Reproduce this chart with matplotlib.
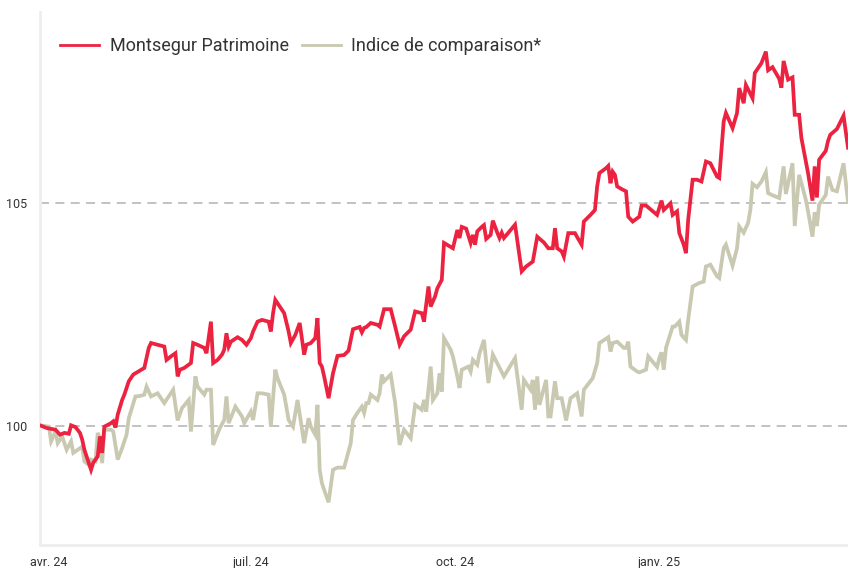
import matplotlib
matplotlib.use("Agg")
import matplotlib.pyplot as plt
import matplotlib.dates as mdates
import numpy as np
import datetime as dt

start_date = "2024-03-28"

# Montsegur Patrimoine: (day offset from start, index value)
montsegur_days = [0, 3, 7, 9, 11, 13, 14, 16, 18, 19, 20, 21, 23, 24, 26, 27, 28, 29, 32, 33,
                  34, 35, 37, 38, 40, 42, 45, 47, 49, 50, 53, 56, 57, 59, 61, 62, 63, 65, 68, 69,
                  71, 74, 75, 77, 78, 80, 82, 83, 84, 85, 86, 89, 91, 93, 95, 96, 98, 100, 103, 104,
                  105, 106, 108, 110, 112, 113, 115, 117, 119, 120, 122, 124, 125, 126, 127, 128, 130, 132, 134, 137,
                  139, 141, 144, 145, 146, 147, 149, 152, 153, 155, 158, 160, 162, 164, 167, 169, 172, 173, 175, 176,
                  178, 179, 181, 182, 186, 188, 189, 190, 192, 194, 195, 196, 197, 199, 200, 201, 203, 204, 206, 207,
                  208, 209, 212, 214, 217, 219, 222, 224, 227, 229, 231, 232, 233, 235, 236, 238, 241, 242, 244, 245,
                  248, 250, 251, 252, 255, 256, 257, 258, 259, 260, 262, 264, 265, 267, 270, 271, 273, 278, 280, 281,
                  284, 285, 287, 288, 290, 291, 292, 294, 296, 298, 300, 302, 305, 306, 308, 309, 312, 314, 315, 317,
                  318, 321, 322, 325, 327, 328, 330, 333, 334, 335, 337, 339, 340, 342, 343, 346, 348, 349, 350, 351,
                  354, 355, 356, 359, 362, 364]
montsegur_vals = [100.01, 99.95, 99.91, 99.80, 99.84, 99.82, 100.01, 99.97, 99.84, 99.69, 99.46, 99.31, 99.01, 99.17, 99.31, 99.76, 99.39, 99.98, 100.06, 100.10,
                  99.96, 100.25, 100.58, 100.70, 101.00, 101.15, 101.24, 101.30, 101.75, 101.86, 101.82, 101.78, 101.48, 101.56, 101.63, 101.11, 101.26, 101.30, 101.41, 101.86,
                  101.82, 101.75, 101.63, 102.34, 101.41, 101.48, 101.60, 101.71, 102.08, 101.78, 101.89, 101.99, 101.93, 101.82, 101.97, 102.12, 102.34, 102.38, 102.34, 102.12,
                  102.53, 102.83, 102.68, 102.53, 102.12, 101.86, 102.04, 102.31, 101.60, 101.82, 101.86, 101.97, 102.42, 101.41, 101.33, 101.11, 100.62, 101.18, 101.57, 101.59,
                  101.69, 102.17, 102.22, 102.10, 102.20, 102.22, 102.31, 102.27, 102.23, 102.62, 102.62, 102.23, 101.82, 102.01, 102.16, 102.57, 102.53, 102.34, 103.13, 102.68,
                  102.91, 103.09, 103.28, 104.11, 103.99, 104.40, 104.22, 104.47, 104.43, 104.11, 104.29, 104.07, 104.37, 104.47, 104.51, 104.20, 104.29, 104.61, 104.34, 104.22,
                  104.34, 104.22, 104.40, 104.52, 103.47, 103.58, 103.69, 104.25, 104.12, 103.99, 103.99, 104.44, 103.99, 103.92, 103.80, 104.33, 104.33, 104.24, 104.07, 104.59,
                  104.74, 104.85, 105.38, 105.68, 105.79, 105.84, 105.45, 105.71, 105.64, 105.38, 105.32, 105.27, 104.70, 104.59, 104.70, 104.95, 104.95, 104.74, 105.06, 104.85,
                  105.00, 104.74, 104.82, 104.33, 104.07, 103.88, 104.63, 105.53, 105.53, 105.49, 105.94, 105.90, 105.60, 105.57, 106.84, 107.03, 106.69, 107.03, 107.59, 107.25,
                  107.66, 107.36, 107.93, 108.15, 108.41, 107.99, 108.06, 107.80, 107.60, 108.20, 107.78, 107.83, 106.99, 106.99, 106.47, 105.68, 105.06, 105.83, 105.13, 105.98,
                  106.18, 106.40, 106.54, 106.67, 106.97, 106.25]

# Indice de comparaison*
indice_days = [0, 4, 5, 7, 8, 10, 12, 14, 15, 17, 19, 20, 22, 23, 25, 26, 27, 28, 29, 32,
               33, 35, 37, 39, 40, 43, 45, 47, 48, 50, 53, 56, 58, 60, 62, 64, 67, 68, 70, 71,
               74, 75, 77, 78, 81, 83, 84, 85, 88, 91, 92, 95, 96, 98, 100, 103, 104, 106, 107, 110,
               112, 114, 116, 119, 121, 122, 124, 125, 126, 127, 128, 130, 132, 134, 137, 138, 140, 141, 143, 145,
               146, 147, 148, 149, 152, 153, 154, 155, 158, 160, 162, 164, 167, 169, 172, 173, 174, 176, 177, 179,
               180, 181, 182, 185, 186, 188, 189, 190, 193, 194, 195, 197, 198, 200, 202, 204, 209, 214, 217, 218,
               221, 222, 223, 224, 225, 228, 229, 230, 232, 233, 235, 237, 239, 242, 244, 245, 249, 251, 252, 253,
               256, 257, 258, 260, 263, 264, 265, 266, 269, 270, 273, 274, 278, 279, 280, 281, 282, 285, 286, 288,
               289, 291, 292, 294, 297, 299, 300, 302, 305, 306, 308, 309, 312, 314, 315, 317, 319, 320, 321, 323,
               325, 327, 328, 330, 333, 335, 336, 339, 340, 342, 345, 346, 348, 349, 350, 351, 354, 355, 357, 359,
               362, 364]
indice_vals = [100.01, 99.98, 99.65, 99.87, 99.61, 99.76, 99.46, 99.65, 99.39, 99.46, 99.53, 99.20, 99.12, 99.24, 99.20, 99.84, 99.72, 99.16, 99.91, 99.91,
               99.87, 99.24, 99.50, 99.80, 100.17, 100.66, 100.67, 100.70, 100.88, 100.66, 100.73, 100.51, 100.66, 100.81, 100.12, 100.40, 100.58, 99.87, 101.11, 100.88,
               100.70, 100.81, 100.81, 99.57, 99.95, 100.13, 100.66, 100.06, 100.43, 100.21, 100.06, 100.32, 100.13, 100.73, 100.73, 100.70, 99.98, 101.26, 101.07, 100.70,
               100.13, 99.98, 100.58, 99.61, 100.17, 99.98, 99.80, 100.47, 99.01, 98.71, 98.56, 98.28, 99.01, 99.06, 99.06, 99.24, 99.61, 100.13, 100.29, 100.43,
               100.29, 100.51, 100.51, 100.70, 100.58, 100.73, 101.15, 101.00, 101.15, 100.51, 99.57, 99.91, 99.72, 100.47, 100.36, 100.58, 100.32, 101.33, 100.58, 100.73,
               101.18, 100.77, 101.97, 101.71, 101.56, 101.11, 100.85, 101.26, 101.33, 101.22, 101.48, 101.37, 101.63, 101.93, 100.96, 101.60, 101.11, 101.52, 100.36, 101.03,
               100.81, 101.03, 100.36, 101.11, 100.47, 101.03, 100.21, 100.21, 101.00, 100.62, 100.62, 100.12, 100.62, 100.73, 100.21, 100.81, 101.07, 101.41, 101.86, 101.89,
               101.99, 101.67, 101.86, 101.89, 101.75, 101.75, 101.89, 101.33, 101.22, 101.20, 101.26, 101.56, 101.32, 101.52, 101.65, 101.26, 101.75, 102.23, 102.23, 102.34,
               102.04, 101.93, 102.38, 103.13, 103.21, 103.24, 103.58, 103.62, 103.36, 103.32, 103.99, 104.07, 103.60, 103.99, 104.48, 104.34, 104.56, 104.85, 105.44, 105.36,
               105.49, 105.70, 105.23, 105.18, 105.12, 105.83, 105.21, 105.90, 104.49, 105.64, 105.08, 104.82, 104.25, 104.80, 104.49, 104.97, 105.19, 105.60, 105.30, 105.27,
               105.90, 105.03]

series_names = ["Montsegur Patrimoine", "Indice de comparaison*"]
y_ticks = [100, 105]
x_tick_dates = ["2024-04-01", "2024-07-01", "2024-10-01", "2025-01-01"]
x_tick_labels = ["avr. 24", "juil. 24", "oct. 24", "janv. 25"]

plt.rcParams['font.family'] = ['Roboto', 'DejaVu Sans']

t0 = dt.datetime.strptime(start_date, "%Y-%m-%d")
m_dates = [t0 + dt.timedelta(days=d) for d in montsegur_days]
i_dates = [t0 + dt.timedelta(days=d) for d in indice_days]

fig = plt.figure(figsize=(8.48, 5.68), dpi=100)
ax = fig.add_axes([40/848, 1 - 545/568, 808/848, 533/568])

red = "#EC2340"
gray = "#C9C8B0"

ax.axhline(100, color="#BDBDBD", lw=1.3, ls=(0, (5, 3.5)), zorder=1)
ax.axhline(105, color="#BDBDBD", lw=1.3, ls=(0, (5, 3.5)), zorder=1)

ax.plot(i_dates, indice_vals, color=gray, lw=2.7, solid_joinstyle="miter", label=series_names[1], zorder=2)
ax.plot(m_dates, montsegur_vals, color=red, lw=2.7, solid_joinstyle="miter", label=series_names[0], zorder=3)

ax.set_xlim(t0, t0 + dt.timedelta(days=364))
ax.set_ylim(97.32, 109.3)

ax.set_yticks(y_ticks)
ax.set_yticklabels([str(v) for v in y_ticks], fontsize=9, color="#333333")
ax.set_xticks([dt.datetime.strptime(s, "%Y-%m-%d") for s in x_tick_dates])
ax.set_xticklabels(x_tick_labels, fontsize=9, color="#333333")
ax.tick_params(axis="both", length=0)
ax.tick_params(axis="y", pad=9)
ax.tick_params(axis="x", pad=8)

for s in ["top", "right"]:
    ax.spines[s].set_visible(False)
for s in ["left", "bottom"]:
    ax.spines[s].set_color("#EEEEEE")
    ax.spines[s].set_linewidth(2.0)

handles, labels = ax.get_legend_handles_labels()
order = [1, 0]
leg = ax.legend([handles[i] for i in order], [labels[i] for i in order],
                loc="upper left", bbox_to_anchor=(13/808, 0.966), borderaxespad=0,
                ncol=2, frameon=False,
                fontsize=13, handlelength=2.15, handletextpad=0.58, columnspacing=0.75,
                labelcolor="#333333")
for lh in leg.get_lines():
    lh.set_linewidth(2.0)

fig.savefig("out.png", dpi=100)
